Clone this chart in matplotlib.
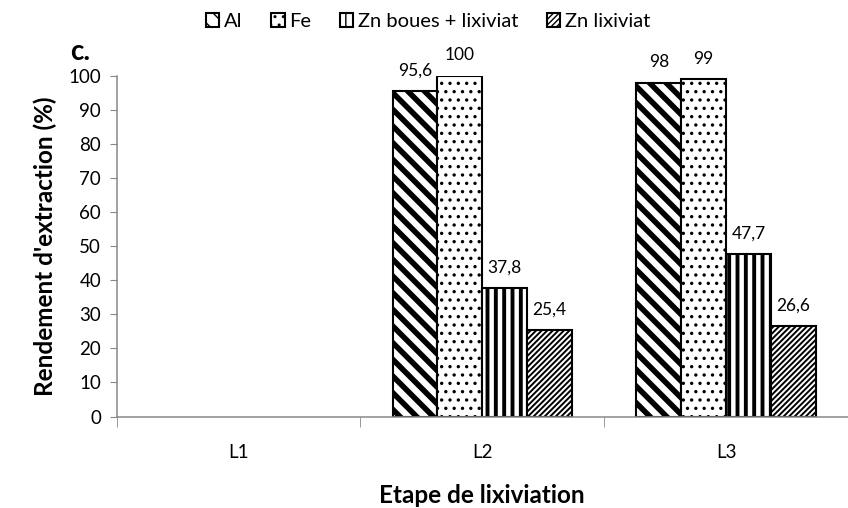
import numpy as np
import matplotlib
matplotlib.use("Agg")
import matplotlib.pyplot as plt

# rendement d'extraction par etape de lixiviation
etapes = ["L1", "L2", "L3"]
series = ["Al", "Fe", "Zn boues + lixiviat", "Zn lixiviat"]
al = [np.nan, 95.6, 98]
fe = [np.nan, 100, 99]
zn_boues = [np.nan, 37.8, 47.7]
zn_lix = [np.nan, 25.4, 26.6]

plt.rcParams['font.family'] = ['Lato', 'DejaVu Sans']
grey = '#888888'

fig = plt.figure(figsize=(8.48, 5.08), dpi=100)
ax = fig.add_axes([0.1374, 0.1801, 0.8626, 0.6703])

x = np.arange(len(etapes))
w = 0.184
hatches = ["\\\\", "..", "||", "//////"]
hatch_lw = [4.0, 1.2, 2.8, 1.4]
values = [al, fe, zn_boues, zn_lix]

handles = []
for i, (vals, h, hl) in enumerate(zip(values, hatches, hatch_lw)):
  with plt.rc_context({'hatch.linewidth': hl}):
    rects = ax.bar(x + (i - 1.5) * w, vals, width=w, color='white',
                   edgecolor='black', linewidth=1.5, hatch=h, label=series[i])
  handles.append(rects)
  # valeurs au-dessus des barres, virgule decimale
  for r, v in zip(rects, vals):
    if np.isnan(v):
      continue
    txt = f"{v:g}".replace(".", ",")
    ax.annotate(txt, (r.get_x() + r.get_width() / 2, v), xytext=(0, 9),
                textcoords='offset points', ha="center", va="bottom", fontsize=12.5)

ax.set_xlim(-0.5, -0.5 + 731.5 / 245)
ax.set_ylim(0, 100)
ax.set_yticks(range(0, 101, 10))
ax.set_xticks(x)
ax.set_xticklabels(etapes)
ax.set_xticks([-0.5, 0.5, 1.5, 2.5], minor=True)
ax.tick_params(axis='x', which='major', length=0, pad=20, labelsize=13.5)
ax.tick_params(axis='x', which='minor', length=7, color=grey)
ax.tick_params(axis='y', length=5, color=grey, labelsize=13.5, pad=6)
for s in ['top', 'right']:
  ax.spines[s].set_visible(False)
for s in ['left', 'bottom']:
  ax.spines[s].set_color(grey)
  ax.spines[s].set_linewidth(1.1)

ax.set_ylabel("Rendement d'extraction (%)", fontsize=17.5, fontweight='bold', labelpad=8)
ax.set_xlabel("Etape de lixiviation", fontsize=17.5, fontweight='bold', labelpad=16)

fig.legend(handles=handles, loc='center', bbox_to_anchor=(0.505, 0.957), ncol=4,
           frameon=False, fontsize=14.5, handlelength=0.67, handleheight=0.67,
           handletextpad=0.25, columnspacing=1.4, borderpad=0.2)
fig.text(0.0825, 0.882, "c.", fontsize=20, fontweight='bold')

fig.savefig("out.png", dpi=100)
